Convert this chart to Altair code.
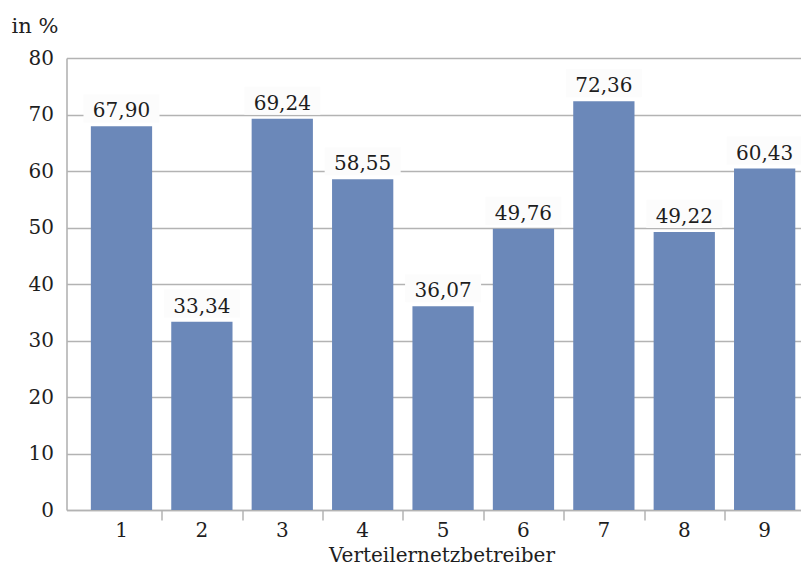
import altair as alt
import pandas as pd

categories = ["1", "2", "3", "4", "5", "6", "7", "8", "9"]
values = [67.90, 33.34, 69.24, 58.55, 36.07, 49.76, 72.36, 49.22, 60.43]
y_ticks = [0, 10, 20, 30, 40, 50, 60, 70, 80]

df = pd.DataFrame({"cat": categories, "value": values})

FONT = "DejaVu Serif"
TEXT = "#1e1e1e"
GRID = "#b3b3b3"
BAR = "#6b88b9"

xscale = alt.Scale(paddingInner=0.238, paddingOuter=0.187, align=0.81)
yscale = alt.Scale(domain=[0, 80], nice=False)

yaxis = alt.Axis(
    values=y_ticks, grid=True, gridColor=GRID, gridWidth=1.3,
    ticks=False, tickSize=0, domain=True, domainColor=GRID, domainWidth=1.6,
    labelFont=FONT, labelFontSize=20, labelColor=TEXT, labelPadding=13,
    title="in %", titleFont=FONT, titleFontSize=21, titleFontWeight="normal",
    titleColor=TEXT, titleAngle=0, titleAlign="left", titleBaseline="alphabetic",
    titleX=-55.5, titleY=-26,
)

xaxis_labels = alt.Axis(
    orient="bottom", ticks=False, tickSize=0, domain=True, domainColor=GRID,
    domainWidth=1.6, labelAngle=0, labelFont=FONT, labelFontSize=20,
    labelColor=TEXT, labelPadding=10, grid=False,
    title="Verteilernetzbetreiber", titleFont=FONT, titleFontSize=20,
    titleFontWeight="normal", titleColor=TEXT, titleBaseline="alphabetic",
    titleY=51, titleX=375,
)

xaxis_ticks = alt.Axis(
    orient="bottom", values=categories[:-1], labels=False, domain=False,
    ticks=True, tickSize=10, tickColor=GRID, tickWidth=1.5,
    bandPosition=1, tickOffset=9.6, tickExtra=False, grid=False, title=None,
)

base = alt.Chart(df)

bars = base.mark_bar(color=BAR).encode(
    x=alt.X("cat:N", scale=xscale, axis=xaxis_labels, sort=categories),
    y=alt.Y("value:Q", scale=yscale, axis=yaxis),
)

boxes = base.mark_point(
    shape="M-1,-0.37L1,-0.37L1,0.37L-1,0.37Z", filled=True, fill="#fcfcfc",
    opacity=1, strokeWidth=0, size=5776, yOffset=-18,
).encode(
    x=alt.X("cat:N", scale=xscale, axis=None, sort=categories),
    y=alt.Y("value:Q", scale=yscale, axis=yaxis),
)

labels = base.transform_calculate(
    label="replace(format(datum.value, '.2f'), '.', ',')"
).mark_text(
    font=FONT, fontSize=20, color=TEXT, baseline="alphabetic", dy=-9,
).encode(
    x=alt.X("cat:N", scale=xscale, axis=xaxis_ticks, sort=categories),
    y=alt.Y("value:Q", scale=yscale, axis=yaxis),
    text="label:N",
)

chart = alt.layer(bars, boxes, labels).resolve_axis(x="independent").properties(
    width=734.5, height=452,
    autosize=alt.AutoSizeParams(type="none"),
    padding={"left": 58.5, "top": 50, "right": 0, "bottom": 56},
    background="white",
).configure_view(stroke=None)

chart.save("out.html", embed_options={"renderer": "svg", "actions": False})
